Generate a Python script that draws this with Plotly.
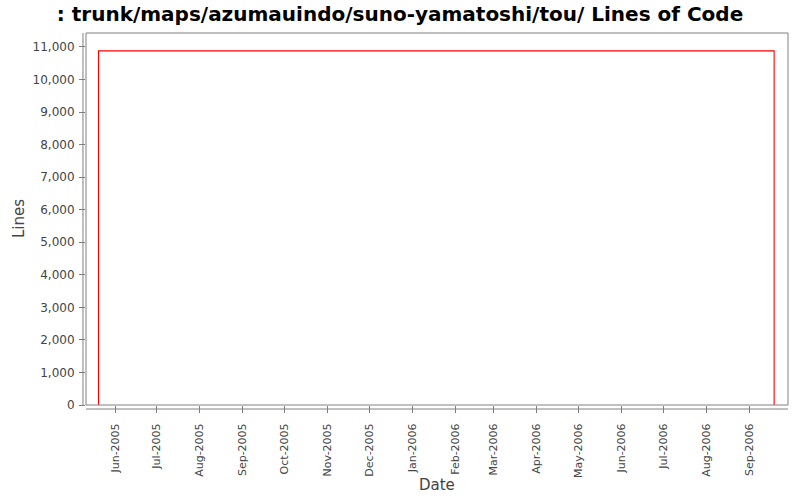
import plotly.graph_objects as go

# lines of code over time (step: jump at first commit, drop at last)
dates = ["2005-05-20", "2005-05-20", "2006-09-19", "2006-09-19"]
lines = [0, 10880, 10880, 0]

title = ": trunk/maps/azumauindo/suno-yamatoshi/tou/ Lines of Code"
font = "DejaVu Sans"
grey = "#808080"
txt = "#444444"

fig = go.Figure()
fig.add_trace(go.Scatter(x=dates, y=lines, mode="lines",
                         line=dict(color="#ff0000", width=1.1),
                         showlegend=False, hoverinfo="skip"))

fig.update_layout(
    width=800, height=500,
    margin=dict(l=86, r=12, t=33, b=95, autoexpand=False),
    paper_bgcolor="white", plot_bgcolor="white",
    title=dict(text="<b>" + title + "</b>", x=0.5, xanchor="center",
               y=0.972, yanchor="middle",
               font=dict(family=font, size=20, color="black")),
    font=dict(family=font, color=txt),
)
fig.update_xaxes(
    range=["2005-05-11", "2006-09-29"], automargin=False,
    tickmode="linear", tick0="2005-06-01", dtick="M1", tickformat="%b-%Y",
    tickangle=-90, tickfont=dict(size=11, color=txt),
    ticks="outside", ticklen=7, tickcolor=grey, ticklabelstandoff=6,
    showgrid=False, zeroline=False, showline=False,
)
fig.update_yaxes(
    range=[0, 11430], automargin=False,
    tickmode="linear", tick0=0, dtick=1000, tickformat=",",
    tickfont=dict(size=12, color=txt),
    ticks="outside", ticklen=6, tickcolor=grey, ticklabelstandoff=2,
    showgrid=False, zeroline=False, showline=False,
)

# axis titles
fig.add_annotation(text="Date", xref="paper", yref="paper", x=0.5, y=-0.215,
                   showarrow=False, xanchor="center", yanchor="middle",
                   font=dict(family=font, size=15, color=txt))
fig.add_annotation(text="Lines", xref="paper", yref="paper", x=-0.0954, y=0.5,
                   showarrow=False, textangle=-90, xanchor="center", yanchor="middle",
                   font=dict(family=font, size=15, color=txt))

# plot border and offset axis lines
fig.add_shape(type="rect", xref="paper", yref="paper", x0=0, y0=0, x1=1, y1=1,
              line=dict(color=grey, width=1))
fig.add_shape(type="line", xref="paper", yref="paper", x0=-0.0043, x1=-0.0043,
              y0=0, y1=1, line=dict(color=grey, width=1))
fig.add_shape(type="line", xref="paper", yref="paper", x0=0, x1=1,
              y0=-0.0108, y1=-0.0108, line=dict(color=grey, width=1))

# drop the default 8px body margin so the figure fills the window
fig.write_html("out.html", config={"displayModeBar": False},
               post_script="document.body.style.margin='0';")
